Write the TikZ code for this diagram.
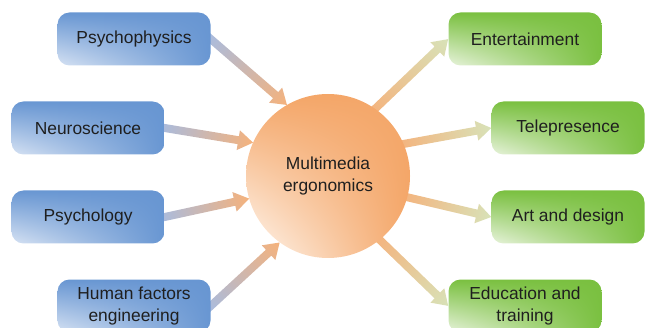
\documentclass[tikz,border=0pt]{standalone}
\usepackage{fontspec}
\setmainfont{Liberation Sans}
\usetikzlibrary{calc,shadings}

\pgfdeclarelayer{bg}
\pgfsetlayers{bg,main}

\definecolor{bluedk}{RGB}{104,150,210}
\definecolor{bluelt}{RGB}{214,226,243}
\definecolor{greendk}{RGB}{122,192,64}
\definecolor{greenlt}{RGB}{232,243,220}
\definecolor{orangedk}{RGB}{244,166,104}
\definecolor{orangelt}{RGB}{255,250,245}
\definecolor{arblue}{RGB}{166,188,226}
\definecolor{arorange}{RGB}{245,178,124}
\definecolor{arpale}{RGB}{216,226,184}

% fat shaded arrow from #1 to #2, colour #3 running into #4
\newcommand{\flowarrow}[4]{%
  \path let \p1=($(#2)-(#1)$) in \pgfextra{%
    \pgfmathsetmacro\arlen{veclen(\x1,\y1)}%
    \pgfmathsetmacro\arang{atan2(\y1,\x1)}%
    \global\let\arlen\arlen \global\let\arang\arang};
  \begin{pgfonlayer}{bg}
    \begin{scope}[transform canvas={shift={(#1)},rotate=\arang}]
      \shade[left color=#3, right color=#4] (-8,-4) -- (\arlen-15,-4)
        -- (\arlen-15,-10) -- (\arlen,0) -- (\arlen-15,10)
        -- (\arlen-15,4) -- (-8,4) -- cycle;
    \end{scope}
  \end{pgfonlayer}}

\begin{document}
\begin{tikzpicture}[x=1pt, y=-1pt,
  Bx/.style={rounded corners=12pt, minimum width=153pt, minimum height=53pt,
    inner sep=0pt, align=center, text=black!88,
    font=\fontsize{17.4}{22}\selectfont},
  Lb/.style={Bx, shade, upper left=bluedk, upper right=bluedk,
    lower right=bluedk, lower left=bluelt},
  Rb/.style={Bx, shade, upper left=greendk, upper right=greendk,
    lower right=greendk, lower left=greenlt},
  Hub/.style={circle, minimum size=164pt, inner sep=0pt, outer sep=0pt,
    align=center, text=black!88, font=\fontsize{17.4}{22}\selectfont,
    shade, upper left=orangedk, upper right=orangedk,
    lower right=orangedk, lower left=orangelt}]
\useasboundingbox (0,0) rectangle (652,328);

\node[Hub] (mm) at (328,176) {Multimedia\\ergonomics};

% inputs
\node[Lb] (pp) at (134,39) {Psychophysics};
\node[Lb] (ns) at (88,128) {Neuroscience};
\node[Lb] (pg) at (88,217) {Psychology};
\node[Lb] (hf) at (134,306) {Human factors\\engineering};

% applications
\node[Rb] (en) at (525,39) {Entertainment};
\node[Rb] (tp) at (568,128) {Telepresence};
\node[Rb] (ad) at (568,217) {Art and design};
\node[Rb] (et) at (525,306) {Education and\\training};

\flowarrow{pp.east}{mm.120}{arblue}{arorange}
\flowarrow{ns.east}{mm.156}{arblue}{arorange}
\flowarrow{pg.east}{mm.196}{arblue}{arorange}
\flowarrow{hf.east}{mm.234}{arblue}{arorange}

\flowarrow{mm.55}{en.west}{arorange}{arpale}
\flowarrow{mm.23}{tp.west}{arorange}{arpale}
\flowarrow{mm.-15}{ad.west}{arorange}{arpale}
\flowarrow{mm.-51}{et.west}{arorange}{arpale}

\end{tikzpicture}
\end{document}
